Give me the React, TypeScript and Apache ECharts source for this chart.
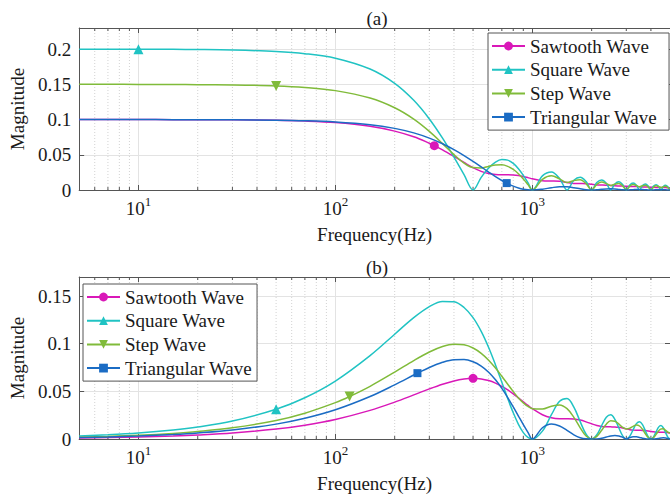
import React, { useEffect, useRef } from "react";
import * as echarts from "echarts";

// Frequency grid (Hz)
const freqs = [5, 7, 10, 15, 20, 30, 50, 70, 100, 150, 200, 250, 300, 350, 400, 450, 500, 550, 600, 650, 700, 750, 800, 850, 900, 950, 1000,
  1125, 1250, 1375, 1500, 1625, 1750, 1875, 2000, 2125, 2250, 2375, 2500, 2625, 2750, 2875, 3000,
  3125, 3250, 3375, 3500, 3625, 3750, 3875, 4000, 4125, 4250, 4375, 4500, 4625, 4750, 4875, 5000];

// Panel (a)
const sawtoothA = [0.1000, 0.1000, 0.1000, 0.0999, 0.0998, 0.0996, 0.0989, 0.0979, 0.0957, 0.0905, 0.0836, 0.0755, 0.0664, 0.0569, 0.0476, 0.0391, 0.0318, 0.0265, 0.0233, 0.0220, 0.0217, 0.0217, 0.0214, 0.0205, 0.0192, 0.0176, 0.0159,
  0.0132, 0.0128, 0.0123, 0.0106, 0.0093, 0.0091, 0.0089, 0.0080, 0.0072, 0.0071, 0.0069, 0.0064, 0.0059, 0.0058, 0.0057, 0.0053,
  0.0050, 0.0049, 0.0048, 0.0045, 0.0043, 0.0042, 0.0042, 0.0040, 0.0038, 0.0037, 0.0037, 0.0035, 0.0034, 0.0034, 0.0033, 0.0032];
const squareA = [0.2000, 0.2000, 0.1999, 0.1997, 0.1995, 0.1988, 0.1967, 0.1936, 0.1871, 0.1717, 0.1514, 0.1273, 0.1009, 0.0736, 0.0468, 0.0219, 0, 0.0179, 0.0312, 0.0396, 0.0433, 0.0424, 0.0378, 0.0303, 0.0208, 0.0104, 0,
  0.0200, 0.0255, 0.0164, 0, 0.0139, 0.0182, 0.0120, 0, 0.0106, 0.0141, 0.0095, 0, 0.0086, 0.0116, 0.0078, 0,
  0.0072, 0.0098, 0.0067, 0, 0.0062, 0.0085, 0.0058, 0, 0.0055, 0.0075, 0.0051, 0, 0.0049, 0.0067, 0.0046, 0];
const stepA = [0.1500, 0.1500, 0.1499, 0.1498, 0.1496, 0.1492, 0.1478, 0.1456, 0.1411, 0.1306, 0.1168, 0.1007, 0.0833, 0.0659, 0.0503, 0.0382, 0.0318, 0.0313, 0.0335, 0.0355, 0.0357, 0.0336, 0.0292, 0.0231, 0.0157, 0.0078, 0,
  0.0151, 0.0201, 0.0158, 0.0106, 0.0133, 0.0144, 0.0091, 0, 0.0080, 0.0112, 0.0091, 0.0064, 0.0083, 0.0091, 0.0059, 0,
  0.0055, 0.0077, 0.0064, 0.0045, 0.0060, 0.0067, 0.0044, 0, 0.0041, 0.0059, 0.0049, 0.0035, 0.0047, 0.0053, 0.0035, 0];
const triangularA = [0.1000, 0.1000, 0.1000, 0.0999, 0.0999, 0.0997, 0.0992, 0.0984, 0.0967, 0.0928, 0.0875, 0.0811, 0.0737, 0.0657, 0.0573, 0.0488, 0.0405, 0.0327, 0.0255, 0.0190, 0.0135, 0.0090, 0.0055, 0.0029, 0.0012, 0.0003, 0,
  0.0012, 0.0032, 0.0046, 0.0045, 0.0033, 0.0017, 0.0004, 0, 0.0003, 0.0010, 0.0015, 0.0016, 0.0013, 0.0007, 0.0002, 0,
  0.0002, 0.0005, 0.0008, 0.0008, 0.0007, 0.0004, 0.0001, 0, 0.0001, 0.0003, 0.0005, 0.0005, 0.0004, 0.0002, 0.0001, 0];

// Panel (b)
const sawtoothB = [0.00105, 0.00147, 0.00209, 0.00314, 0.00419, 0.00627, 0.01042, 0.01452, 0.02053, 0.03005, 0.03870, 0.04627, 0.05257, 0.05749, 0.06097, 0.06300, 0.06366, 0.06305, 0.06132, 0.05867, 0.05531, 0.05145, 0.04732, 0.04312, 0.03904, 0.03524, 0.03183,
  0.02546, 0.02222, 0.02126, 0.02122, 0.02094, 0.01984, 0.01800, 0.01592, 0.01419, 0.01315, 0.01277, 0.01273, 0.01265, 0.01224, 0.01151, 0.01061,
  0.00982, 0.00931, 0.00912, 0.00909, 0.00905, 0.00885, 0.00845, 0.00796, 0.00751, 0.00721, 0.00709, 0.00707, 0.00705, 0.00693, 0.00668, 0.00637];
const squareB = [0.00314, 0.00440, 0.00628, 0.00942, 0.01255, 0.01879, 0.03120, 0.04328, 0.06079, 0.08748, 0.10997, 0.12732, 0.13889, 0.14440, 0.14396, 0.13801, 0.12732, 0.11292, 0.09597, 0.07776, 0.05953, 0.04244, 0.02749, 0.01544, 0.00675, 0.00164, 0,
  0.00829, 0.02546, 0.03952, 0.04244, 0.03344, 0.01819, 0.00497, 0, 0.00439, 0.01415, 0.02288, 0.02546, 0.02070, 0.01157, 0.00324, 0,
  0.00298, 0.00979, 0.01610, 0.01819, 0.01499, 0.00849, 0.00241, 0, 0.00226, 0.00749, 0.01242, 0.01415, 0.01175, 0.00670, 0.00191, 0];
const stepB = [0.00196, 0.00275, 0.00393, 0.00589, 0.00785, 0.01175, 0.01950, 0.02711, 0.03818, 0.05530, 0.07018, 0.08231, 0.09131, 0.09703, 0.09947, 0.09884, 0.09549, 0.08992, 0.08271, 0.07448, 0.06586, 0.05745, 0.04974, 0.04313, 0.03788, 0.03412, 0.03183,
  0.03136, 0.03447, 0.03576, 0.03183, 0.02277, 0.01176, 0.00313, 0, 0.00276, 0.00915, 0.01558, 0.01910, 0.01873, 0.01567, 0.01227, 0.01061,
  0.01129, 0.01326, 0.01457, 0.01364, 0.01021, 0.00549, 0.00152, 0, 0.00142, 0.00484, 0.00846, 0.01061, 0.01063, 0.00907, 0.00724, 0.00637];
const triangularB = [0.00157, 0.00220, 0.00314, 0.00471, 0.00628, 0.00940, 0.01561, 0.02173, 0.03065, 0.04457, 0.05687, 0.06715, 0.07509, 0.08048, 0.08323, 0.08338, 0.08106, 0.07652, 0.07008, 0.06214, 0.05312, 0.04349, 0.03367, 0.02408, 0.01508, 0.00698, 0,
  0.01179, 0.01566, 0.01369, 0.00901, 0.00438, 0.00137, 0.00017, 0, 0.00013, 0.00083, 0.00205, 0.00324, 0.00376, 0.00323, 0.00181, 0,
  0.00153, 0.00232, 0.00227, 0.00165, 0.00088, 0.00030, 0.00004, 0, 0.00003, 0.00023, 0.00060, 0.00100, 0.00121, 0.00108, 0.00063, 0];

// Marker points [frequency, magnitude]
const markerSawA = [318, 0.0630];
const markerSquareA = [10, 0.1999];
const markerStepA = [50, 0.1478];
const markerTriA = [741, 0.0098];
const markerSawB = [500, 0.06366];
const markerSquareB = [50, 0.0312];
const markerStepB = [118, 0.0446];
const markerTriB = [261, 0.0691];

const seriesNames = ["Sawtooth Wave", "Square Wave", "Step Wave", "Triangular Wave"];
const minorFreqs = [6, 7, 8, 9, 20, 30, 40, 50, 60, 70, 80, 90, 200, 300, 400, 500, 600, 700, 800, 900, 2000, 3000, 4000];
const yMaxA = 0.23;
const yMaxB = 0.17;

const FONT = "Liberation Serif";
const AX = "#555555";
const TXT = "#1a1a1a";
const GRID = "#e3e3e3";

const styles = [
  { color: "#D918B8", symbol: "circle", size: 9, rotate: 0 },
  { color: "#20C3C3", symbol: "triangle", size: 10, rotate: 0 },
  { color: "#80BB3A", symbol: "triangle", size: 10, rotate: 180 },
  { color: "#1B6CC4", symbol: "rect", size: 8, rotate: 0 },
];

function buildData(vals: number[], marker: number[]) {
  const pts: any[] = freqs.map((f, i) => ({ value: [f, vals[i]], symbol: "none" }));
  const idx = freqs.indexOf(marker[0]);
  if (idx >= 0) {
    pts[idx] = { value: [marker[0], marker[1]] };
  } else {
    const k = freqs.findIndex((f) => f > marker[0]);
    pts.splice(k, 0, { value: [marker[0], marker[1]] });
  }
  return pts;
}

function lineSeries(i: number, vals: number[], marker: number[], g: number) {
  const s = styles[i];
  return {
    type: "line",
    name: seriesNames[i],
    xAxisIndex: g * 2,
    yAxisIndex: g * 2,
    data: buildData(vals, marker),
    smooth: 0.35,
    symbol: s.symbol,
    symbolSize: s.size,
    symbolRotate: s.rotate,
    showSymbol: true,
    lineStyle: { color: s.color, width: 1.5 },
    itemStyle: { color: s.color, borderWidth: 0 },
    emphasis: { disabled: true },
    z: 3,
  };
}

function minorSeries(g: number, ymax: number) {
  return {
    type: "custom",
    xAxisIndex: g * 2,
    yAxisIndex: g * 2,
    silent: true,
    z: 1,
    data: minorFreqs.map((f) => [f, 0]),
    encode: { x: 0, y: 1 },
    renderItem: (params: any, api: any) => {
      const f = api.value(0);
      const b = api.coord([f, 0]);
      const t = api.coord([f, ymax]);
      return {
        type: "group",
        children: [
          { type: "line", shape: { x1: b[0], y1: b[1], x2: t[0], y2: t[1] }, style: { stroke: "#d2d2d2", lineWidth: 1, lineDash: [1, 2] } },
          { type: "line", shape: { x1: b[0], y1: b[1], x2: b[0], y2: b[1] - 3 }, style: { stroke: AX, lineWidth: 1 } },
          { type: "line", shape: { x1: t[0], y1: t[1], x2: t[0], y2: t[1] + 3 }, style: { stroke: AX, lineWidth: 1 } },
        ],
      };
    },
  };
}

function xAxes(g: number) {
  const common = {
    type: "log",
    logBase: 10,
    gridIndex: g,
    min: 5,
    max: 5000,
  };
  return [
    {
      ...common,
      position: "bottom",
      axisLine: { show: true, onZero: false, lineStyle: { color: AX, width: 1 } },
      axisTick: { show: true, inside: true, length: 5, lineStyle: { color: AX } },
      axisLabel: {
        margin: 9,
        showMinLabel: false,
        showMaxLabel: false,
        formatter: (v: number) => {
          const e = Math.log10(v);
          if (Math.abs(e - Math.round(e)) > 1e-6) return "";
          return "{b|10}{e|" + Math.round(e) + "}";
        },
        rich: {
          b: { fontFamily: FONT, fontSize: 19, color: TXT, lineHeight: 19, verticalAlign: "bottom" },
          e: { fontFamily: FONT, fontSize: 13, color: TXT, lineHeight: 13, verticalAlign: "bottom", padding: [0, 0, 10, 0] },
        },
      },
      splitLine: { show: true, lineStyle: { color: GRID, width: 1 } },
      name: "Frequency(Hz)",
      nameLocation: "middle",
      nameGap: 35,
      nameTextStyle: { fontFamily: FONT, fontSize: 19, color: TXT },
    },
    {
      ...common,
      position: "top",
      axisLine: { show: true, onZero: false, lineStyle: { color: AX, width: 1 } },
      axisTick: { show: true, inside: true, length: 5, lineStyle: { color: AX } },
      axisLabel: { show: false },
      splitLine: { show: false },
    },
  ];
}

function yAxes(g: number, ymax: number) {
  const common = { type: "value", gridIndex: g, min: 0, max: ymax, interval: 0.05 };
  return [
    {
      ...common,
      position: "left",
      axisLine: { show: true, onZero: false, lineStyle: { color: AX, width: 1 } },
      axisTick: { show: true, inside: true, length: 5, lineStyle: { color: AX } },
      axisLabel: {
        fontFamily: FONT,
        fontSize: 19,
        color: TXT,
        margin: 8,
        showMaxLabel: false,
        formatter: (v: number) => String(+v.toFixed(2)),
      },
      splitLine: { show: true, lineStyle: { color: GRID, width: 1 } },
      name: "Magnitude",
      nameLocation: "middle",
      nameRotate: 90,
      nameGap: 47,
      nameTextStyle: { fontFamily: FONT, fontSize: 19, color: TXT },
    },
    {
      ...common,
      position: "right",
      axisLine: { show: true, onZero: false, lineStyle: { color: AX, width: 1 } },
      axisTick: { show: true, inside: true, length: 5, lineStyle: { color: AX } },
      axisLabel: { show: false },
      splitLine: { show: false },
    },
  ];
}

function legend(left: number, top: number, rightPad: number) {
  return {
    orient: "vertical",
    left,
    top,
    itemWidth: 33,
    itemHeight: 11,
    itemGap: 3.7,
    padding: [3, rightPad, 3, 3],
    borderColor: AX,
    borderWidth: 1,
    backgroundColor: "#ffffff",
    selectedMode: false,
    textStyle: { fontFamily: FONT, fontSize: 19, color: TXT, lineHeight: 20 },
    data: seriesNames,
    z: 10,
  };
}

export default function App() {
  const ref = useRef<HTMLDivElement>(null);
  useEffect(() => {
    if (!ref.current) return;
    const chart = echarts.init(ref.current, undefined, { renderer: "svg" });
    const option: any = {
      animation: false,
      backgroundColor: "#ffffff",
      textStyle: { fontFamily: FONT },
      grid: [
        { left: 72, top: 28, width: 600, height: 162 },
        { left: 72, top: 277, width: 600, height: 162 },
      ],
      xAxis: [...xAxes(0), ...xAxes(1)],
      yAxis: [...yAxes(0, yMaxA), ...yAxes(1, yMaxB)],
      legend: [legend(488, 33, 12), legend(83, 284, 5)],
      title: [
        { text: "(a)", left: 372, top: 4, textAlign: "center", textStyle: { fontFamily: FONT, fontSize: 19, fontWeight: "normal", color: TXT } },
        { text: "(b)", left: 372, top: 253, textAlign: "center", textStyle: { fontFamily: FONT, fontSize: 19, fontWeight: "normal", color: TXT } },
      ],
      series: [
        minorSeries(0, yMaxA),
        minorSeries(1, yMaxB),
        lineSeries(0, sawtoothA, markerSawA, 0),
        lineSeries(1, squareA, markerSquareA, 0),
        lineSeries(2, stepA, markerStepA, 0),
        lineSeries(3, triangularA, markerTriA, 0),
        lineSeries(0, sawtoothB, markerSawB, 1),
        lineSeries(1, squareB, markerSquareB, 1),
        lineSeries(2, stepB, markerStepB, 1),
        lineSeries(3, triangularB, markerTriB, 1),
      ],
    };
    chart.setOption(option);
    return () => chart.dispose();
  }, []);
  return <div ref={ref} style={{ position: "absolute", left: 0, top: 0, width: 670, height: 501 }} />;
}
